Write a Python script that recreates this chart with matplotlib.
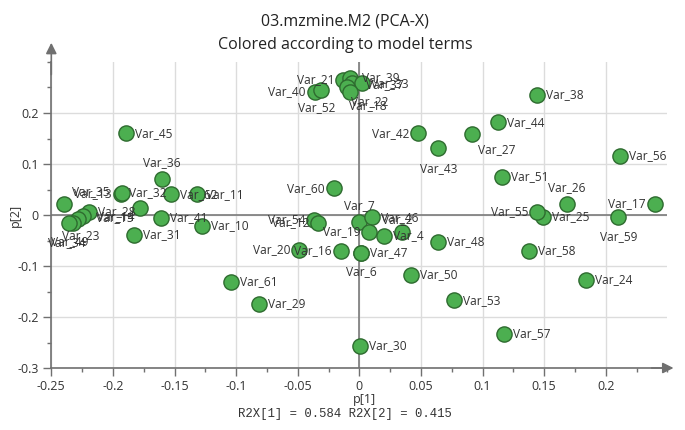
import matplotlib
matplotlib.use("Agg")
import matplotlib.pyplot as plt
from matplotlib.ticker import MultipleLocator

# ---------------- data ----------------
names = ["Var_45", "Var_36", "Var_35", "Var_13", "Var_32", "Var_62", "Var_11", "Var_15",
         "Var_28", "Var_14", "Var_49", "Var_23", "Var_34", "Var_41", "Var_10", "Var_31",
         "Var_61", "Var_29", "Var_20", "Var_16", "Var_47", "Var_6", "Var_54", "Var_12",
         "Var_7", "Var_46", "Var_19", "Var_4", "Var_2", "Var_48", "Var_50", "Var_53",
         "Var_57", "Var_30", "Var_58", "Var_24", "Var_59", "Var_25", "Var_55", "Var_17",
         "Var_26", "Var_51", "Var_56", "Var_43", "Var_27", "Var_42", "Var_44", "Var_38",
         "Var_60", "Var_40", "Var_52", "Var_21", "Var_39", "Var_37", "Var_33", "Var_18",
         "Var_22"]
p1 = [-0.1894, -0.1604, -0.2397, -0.1934, -0.1926, -0.1529, -0.1320, -0.1780,
      -0.2190, -0.2240, -0.2281, -0.2321, -0.2354, -0.1612, -0.1277, -0.1829,
      -0.1044, -0.0812, -0.0488, -0.0152, 0.0013, 0.0016, -0.0365, -0.0333,
      -0.0002, 0.0101, 0.0081, 0.0200, 0.0344, 0.0641, 0.0419, 0.0768,
      0.1177, 0.0005, 0.1374, 0.1840, 0.2103, 0.1490, 0.1445, 0.2400,
      0.1683, 0.1161, 0.2116, 0.0642, 0.0917, 0.0479, 0.1123, 0.1440,
      -0.0205, -0.0360, -0.0313, -0.0130, -0.0075, -0.0062, 0.0019, -0.0102,
      -0.0075]
p2 = [0.1602, 0.0706, 0.0216, 0.0412, 0.0422, 0.0406, 0.0406, 0.0131,
      0.0065, -0.0020, -0.0084, -0.0163, -0.0163, -0.0053, -0.0216, -0.0392,
      -0.1307, -0.1739, -0.0680, -0.0700, -0.0740, -0.0745, -0.0098, -0.0151,
      -0.0131, -0.0045, -0.0327, -0.0412, -0.0339, -0.0524, -0.1176, -0.1673,
      -0.2327, -0.2569, -0.0706, -0.1275, -0.0033, -0.0033, 0.0065, 0.0216,
      0.0216, 0.0751, 0.1157, 0.1310, 0.1590, 0.1600, 0.1818, 0.2353,
      0.0523, 0.2418, 0.2451, 0.2647, 0.2686, 0.2582, 0.2582, 0.2516,
      0.2418]

title_lines = ["03.mzmine.M2 (PCA-X)", "Colored according to model terms"]
x_ticks = [-0.25, -0.2, -0.15, -0.1, -0.05, 0, 0.05, 0.1, 0.15, 0.2]
x_tick_labels = ["-0.25", "-0.2", "-0.15", "-0.1", "-0.05", "0", "0.05", "0.1", "0.15", "0.2"]
y_ticks = [-0.3, -0.2, -0.1, 0, 0.1, 0.2]
y_tick_labels = ["-0.3", "-0.2", "-0.1", "0", "0.1", "0.2"]
r2x_text = "R2X[1] = 0.584 R2X[2] = 0.415"

# ---------------- label placement (style) ----------------
place = {"r": (9, 0, "left"), "l": (-9, 0, "right"),
         "t": (0, 16, "center"), "b": (0, -20, "center")}
label_pos = ["r", "t", (8, 12, "left"), "l", (7, 1, "left"), "r", "r", (-7, -9, "right"),
             "r", (14, -1, "left"), (-9, -22, "center"), (7, -12, "center"), (-3, -19, "center"), "r", "r", "r",
             "r", "r", "l", "l", "r", (0, -19, "center"), "l", "l",
             "t", "r", "l", "r", (-4, 13, "center"), "r", "r", "r",
             "r", "r", "r", "r", "b", "r", "l", "l",
             "t", "r", "r", "b", (24, -16, "center"), "l", "r", "r",
             "l", "l", (-4, -18, "center"), "l", (12, 0, "left"), (14, -1, "left"), "r", (21, -19, "center"),
             (20, -10, "center")]

FONT = "Open Sans"
plt.rcParams["font.family"] = [FONT, "DejaVu Sans"]

fig = plt.figure(figsize=(6.85, 4.3), dpi=100)
ax = fig.add_axes([51.3 / 685, 62 / 430, 616 / 685, 306 / 430])

ax.set_xlim(-0.25, 0.25)
ax.set_ylim(-0.3, 0.3)

ax.set_xticks(x_ticks)
ax.set_xticklabels(x_tick_labels)
ax.set_yticks(y_ticks)
ax.set_yticklabels(y_tick_labels)
ax.xaxis.set_minor_locator(MultipleLocator(0.025))
ax.yaxis.set_minor_locator(MultipleLocator(0.05))
ax.tick_params(axis="both", which="major", length=6, width=1, color="#707070",
               labelsize=9, labelcolor="#333333", pad=3)
ax.tick_params(axis="both", which="minor", length=3, width=1, color="#707070")

ax.grid(True, which="major", color="#dcdcdc", lw=1, zorder=0)
ax.set_axisbelow(True)
for s in ["top", "right"]:
    ax.spines[s].set_visible(False)
for s in ["left", "bottom"]:
    ax.spines[s].set_color("#707070")
    ax.spines[s].set_linewidth(1.2)

# zero lines
ax.axhline(0, color="#7a7a7a", lw=1.2, zorder=1)
ax.axvline(0, color="#7a7a7a", lw=1.2, zorder=1)

# axis arrows
ax.annotate("", xy=(0, 1 + 22 / 306), xycoords="axes fraction", xytext=(0, 0.95),
            arrowprops=dict(arrowstyle="-|>", color="#707070", lw=1.2, mutation_scale=16),
            annotation_clip=False)
ax.annotate("", xy=(1 + 9 / 616, 0), xycoords="axes fraction", xytext=(0.97, 0),
            arrowprops=dict(arrowstyle="-|>", color="#707070", lw=1.2, mutation_scale=16),
            annotation_clip=False)

ax.scatter(p1, p2, s=120, c="#4caf50", edgecolors="#2e6b2f", linewidths=1.0, zorder=3,
           clip_on=False)

for n, x, y, pos in zip(names, p1, p2, label_pos):
    dx, dy, ha = place[pos] if isinstance(pos, str) else pos
    ax.annotate(n, (x, y), xytext=(dx, dy), textcoords="offset pixels", ha=ha, va="center",
                fontsize=8.6, color="#333333", zorder=4, annotation_clip=False)

fig.text(0.5035, 1 - 21.7 / 430, title_lines[0], ha="center", va="center", fontsize=11.5, color="#222222")
fig.text(0.5035, 1 - 45 / 430, title_lines[1], ha="center", va="center", fontsize=11.5, color="#222222")

fig.text(15 / 685, 1 - 215 / 430, "p[2]", rotation=90, ha="center", va="center", fontsize=9, color="#333333")
fig.text(364 / 685, 1 - 400 / 430, "p[1]", ha="center", va="center", fontsize=9, color="#333333")
fig.text(345 / 685, 1 - 414 / 430, r2x_text, ha="center", va="center", fontsize=8.8,
         family=["Liberation Mono", "DejaVu Sans Mono"], color="#333333")

fig.savefig("out.png", dpi=100)
